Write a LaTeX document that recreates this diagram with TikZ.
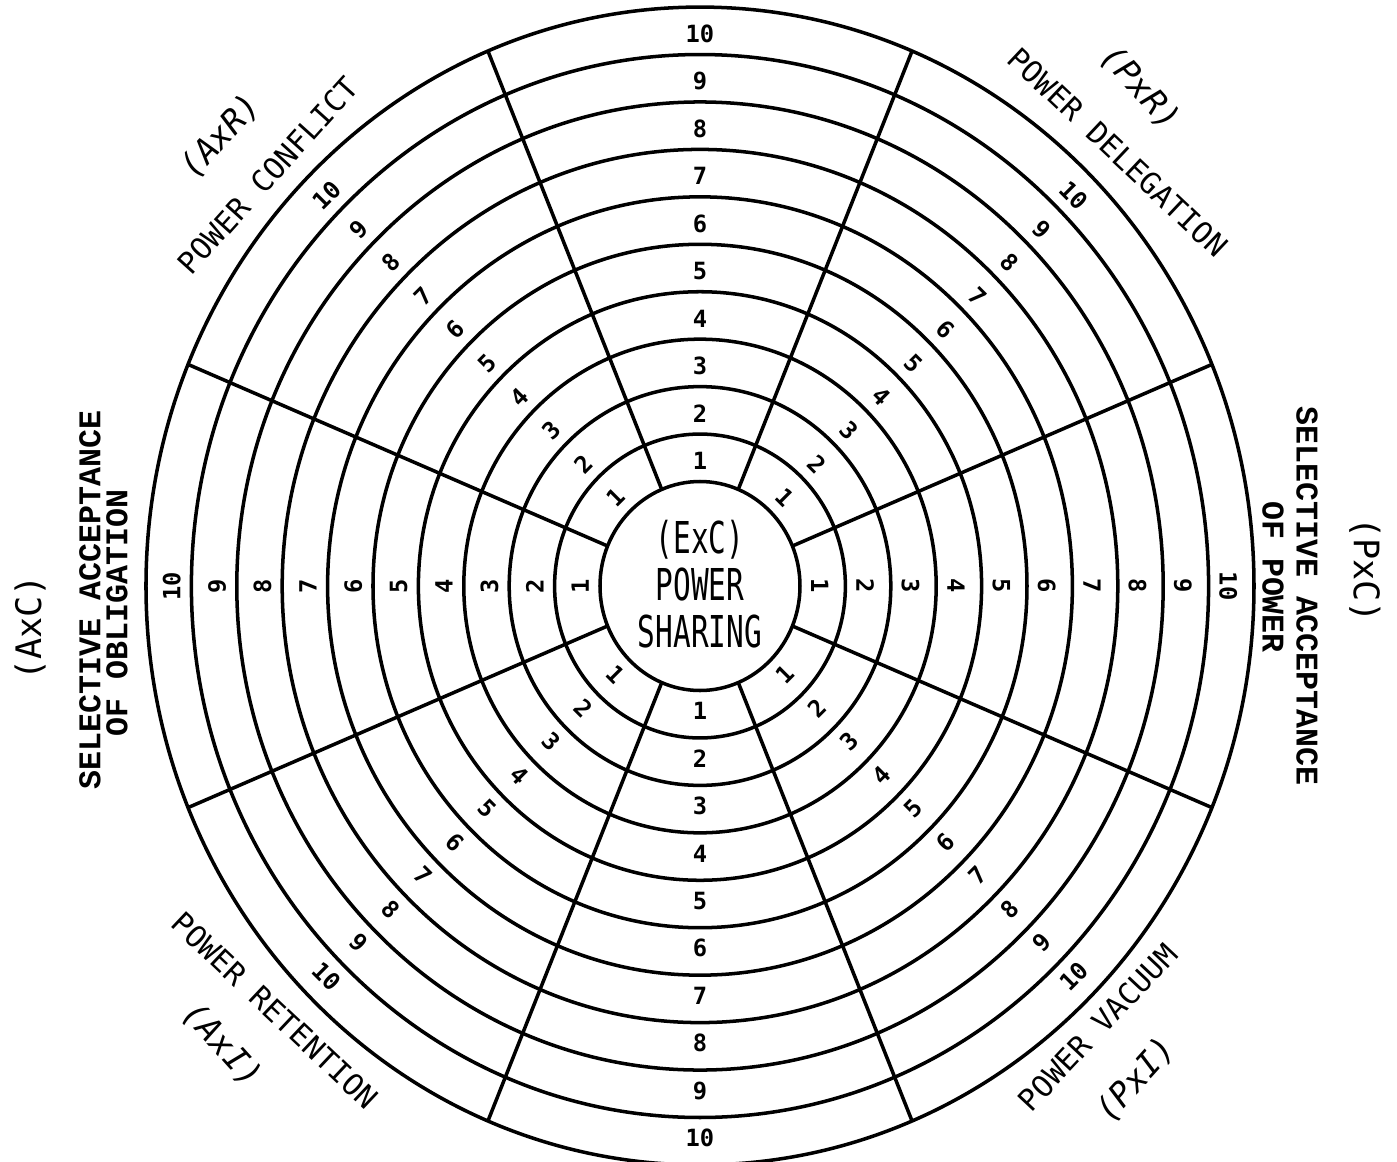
\documentclass[tikz,border=0pt]{standalone}
\usepackage{fontspec}
\setmonofont{DejaVu Sans Mono}
\newfontfamily\typewriter{Liberation Mono}
\newcommand{\squeeze}[1]{\scalebox{0.67}[1]{#1}}

\begin{document}
\begin{tikzpicture}[x=0.02cm, y=0.02cm,
    ring/.style={draw=inkColour, line width=2pt},
    score/.style={font=\ttfamily\bfseries\fontsize{13.5}{14}\selectfont, inner sep=0pt},
    facet/.style={font=\ttfamily\fontsize{17}{20}\selectfont, inner sep=0pt},
    code/.style={font=\ttfamily\fontsize{20}{22}\selectfont, inner sep=0pt},
    slantcode/.style={font=\ttfamily\itshape\fontsize{19}{20}\selectfont, inner sep=0pt},
    side/.style={font=\typewriter\bfseries\fontsize{18}{20}\selectfont, inner sep=0pt}]

    % Define colours
    \definecolor{inkColour}{HTML}{000000}

    % Define ring sizes
    \def\innerR{100}
    \def\ringW{45.4}
    \def\outerR{554}

    % Fix the frame
    \useasboundingbox (-700,-575) rectangle (697,586);

    \begin{scope}[yscale=1.045]
    % Draw the rings
    \foreach \k in {0,...,10}
        \draw[ring] (0,0) circle[radius={\innerR+\k*\ringW}];

    % Draw the sector boundaries
    \foreach \a in {22.5,67.5,...,337.5}
        \draw[ring] (\a:\innerR) -- (\a:\outerR);

    % Number the rings in every sector
    \foreach \a/\r in {0/-90,45/-45,90/0,135/45,180/90,225/-45,270/0,315/45}
        \foreach \k in {1,...,10}
            \node[score, rotate=\r] (n-\a-\k) at (\a:{\innerR+(\k-0.5)*\ringW-3}) {\k};

    % Label the centre
    \node[font=\ttfamily\fontsize{25}{26.8}\selectfont, align=center, inner sep=0pt] (hub) at (0,1.4)
        {\squeeze{(ExC)}\\\squeeze{POWER}\\\squeeze{SHARING}};

    % Label the diagonal sectors
    \node[facet, rotate=48] (conflict) at (137.7:584) {POWER CONFLICT};
    \node[slantcode, rotate=48] (axr) at (138.1:644) {(AxR)};
    \node[facet, rotate=-43.3] (delegation) at (44.8:589) {POWER DELEGATION};
    \node[slantcode, rotate=-48] (pxr) at (47.3:649) {(PxR)};
    \node[facet, rotate=-43.3] (retention) at (223.7:588) {POWER RETENTION};
    \node[slantcode, rotate=-48] (axi) at (222.6:649) {(AxI)};
    \node[facet, rotate=46.8] (vacuum) at (313.3:580) {POWER VACUUM};
    \node[slantcode, rotate=48] (pxi) at (312.7:643) {(PxI)};

    % Label the side sectors
    \node[side, rotate=90] (accept-left) at (-610,-13.4) {SELECTIVE ACCEPTANCE};
    \node[side, rotate=90] (obligation) at (-583,-26) {OF OBLIGATION};
    \node[code, rotate=90] (axc) at (-670,-40) {(AxC)};
    \node[side, rotate=-90] (accept-right) at (607,-9.6) {SELECTIVE ACCEPTANCE};
    \node[side, rotate=-90] (power) at (573,8.6) {OF POWER};
    \node[code, rotate=-90] (pxc) at (665,15.3) {(PxC)};
    \end{scope}

\end{tikzpicture}
\end{document}
